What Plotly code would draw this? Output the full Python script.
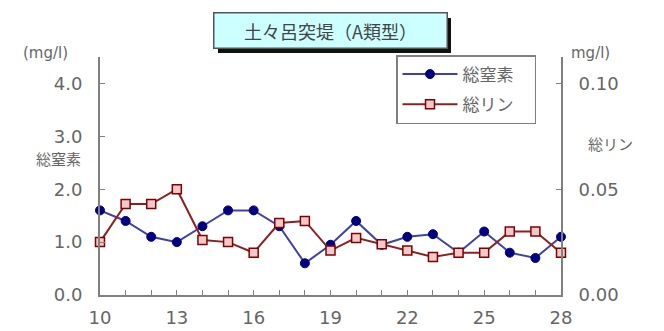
import plotly.graph_objects as go

days = list(range(10, 29))
total_n = [1.6, 1.4, 1.1, 1.0, 1.3, 1.6, 1.6, 1.3, 0.6, 0.95, 1.4, 0.95, 1.1, 1.15, 0.8, 1.2, 0.8, 0.7, 1.1]
total_p = [0.025, 0.043, 0.043, 0.050, 0.026, 0.025, 0.020, 0.034, 0.035, 0.021, 0.027, 0.024, 0.021, 0.018, 0.020, 0.020, 0.030, 0.030, 0.020]
x_ticks = [10, 13, 16, 19, 22, 25, 28]
left_ticks = [0, 1, 2, 3, 4]
right_ticks = [0, 0.05, 0.10]

# the page body has an 8px margin; the figure is sized to fill the rest of the window
OFF = 8
W, H = 664 - OFF, 331 - OFF
L, T = 100 - OFF, 57 - OFF
R, B = W - (561 - OFF), H - (295 - OFF)
pw, ph = W - L - R, H - T - B

def px(x):  # page pixel -> paper x
    return (x - OFF - L) / pw

def py(y):  # page pixel -> paper y
    return (H - B - (y - OFF)) / ph

num_font = dict(family="DejaVu Sans", size=18, color="#666666")
jp = "Noto Sans CJK JP"
pad = "\u00a0" * 4

fig = go.Figure()
fig.add_trace(go.Scatter(
    x=days, y=total_n, name="総窒素" + pad, mode="lines+markers", legendgroup="n",
    line=dict(color="#4040a8", width=2),
    marker=dict(symbol="circle", size=9, color="#000080", line=dict(color="#000080", width=1)),
    cliponaxis=False, yaxis="y"))
fig.add_trace(go.Scatter(
    x=days, y=total_p, name="総リン" + pad, mode="lines+markers", legendgroup="p",
    line=dict(color="#8b2020", width=2),
    marker=dict(symbol="square", size=9, color="#f2c8c8", line=dict(color="#800000", width=1.5)),
    cliponaxis=False, yaxis="y2"))

fig.update_layout(
    template="none",
    width=W, height=H, margin=dict(l=L, r=R, t=T, b=B),
    paper_bgcolor="white", plot_bgcolor="white",
    showlegend=True,
    legend=dict(x=px(396), y=py(55), xanchor="left", yanchor="top",
                bordercolor="#808080", borderwidth=1.5, bgcolor="white",
                font=dict(family=jp, size=17, color="#666666"),
                itemwidth=55, tracegroupgap=5),
    xaxis=dict(range=[10, 28], tickvals=x_ticks, ticktext=[str(v) for v in x_ticks],
               ticks="inside", ticklen=5, tickcolor="#808080", automargin=False,
               minor=dict(dtick=1, tick0=10, ticks="inside", ticklen=5, tickcolor="#808080"),
               showline=True, linecolor="#808080", linewidth=2, showgrid=False, zeroline=False,
               tickfont=num_font, ticklabelstandoff=5),
    yaxis=dict(range=[0, 4.5], tickvals=left_ticks, tickformat=".1f", automargin=False,
               ticks="inside", ticklen=5, tickcolor="#808080",
               showline=True, linecolor="#808080", linewidth=2, showgrid=False, zeroline=False,
               tickfont=num_font, ticklabelstandoff=12),
    yaxis2=dict(range=[0, 0.1125], tickvals=right_ticks, tickformat=".2f", overlaying="y", side="right",
                ticks="inside", ticklen=5, tickcolor="#808080", automargin=False,
                showline=True, linecolor="#808080", linewidth=2, showgrid=False, zeroline=False,
                tickfont=num_font, ticklabelstandoff=12),
)

# title shadow and box
fig.add_shape(type="rect", xref="paper", yref="paper",
              x0=px(218), x1=px(451), y0=py(53), y1=py(18),
              fillcolor="#111111", line=dict(width=0), layer="above")
fig.add_annotation(xref="paper", yref="paper", x=px(330), y=py(31),
                   text="土々呂突堤（A類型）", showarrow=False,
                   font=dict(family=jp, size=18, color="#444444"),
                   bgcolor="#ccffff", bordercolor="#555555", borderwidth=1.5,
                   width=230, height=32, xanchor="center", yanchor="middle")

side_labels = [
    (45, 53, "(mg/l)", "DejaVu Sans"),
    (58, 158, "総窒素", jp),
    (590, 53, "mg/l)", "DejaVu Sans"),
    (610, 143, "総リン", jp),
]
for x, y, t, fam in side_labels:
    fig.add_annotation(xref="paper", yref="paper", x=px(x), y=py(y), text=t,
                       xanchor="center", yanchor="middle", showarrow=False,
                       font=dict(family=fam, size=15, color="#666666"))

fig.write_html("out.html")
